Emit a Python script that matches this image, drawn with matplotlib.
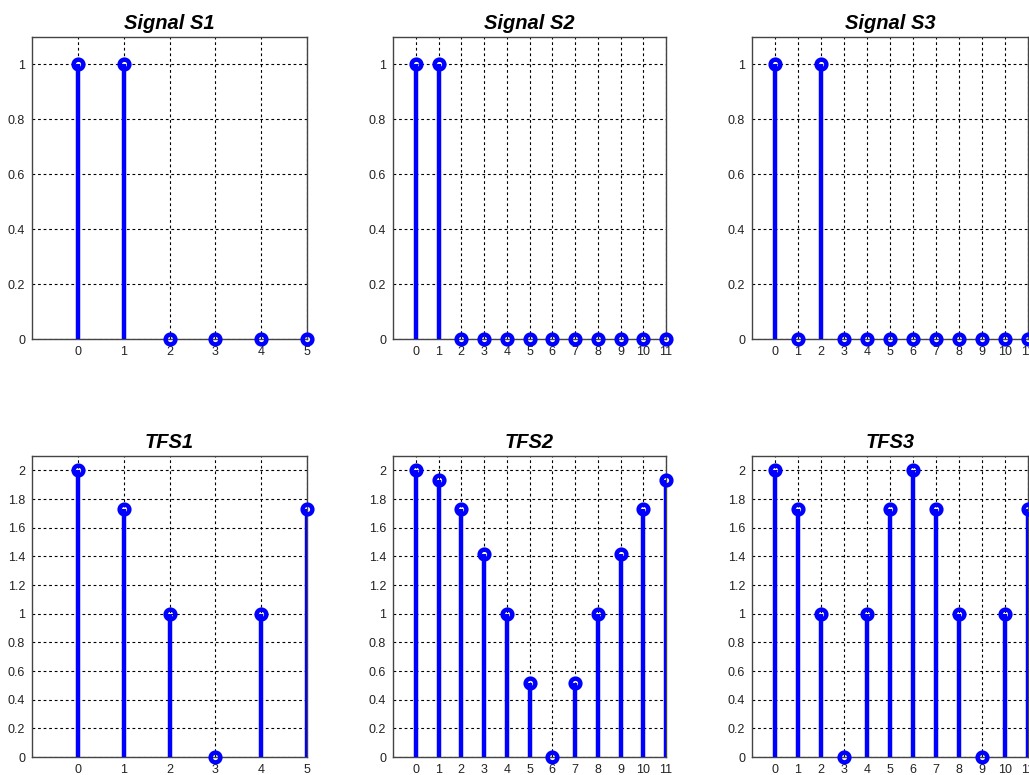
import numpy as np
import matplotlib.pyplot as plt

plt.rcParams['font.family'] = ['Liberation Sans', 'DejaVu Sans']

# signals and their transforms (magnitudes)
s1 = [1, 1, 0, 0, 0, 0]
s2 = [1, 1, 0, 0, 0, 0, 0, 0, 0, 0, 0, 0]
s3 = [1, 0, 1, 0, 0, 0, 0, 0, 0, 0, 0, 0]
tfs1 = [2, 1.732, 1, 0, 1, 1.732]
tfs2 = [2, 1.932, 1.732, 1.414, 1, 0.518, 0, 0.518, 1, 1.414, 1.732, 1.932]
tfs3 = [2, 1.732, 1, 0, 1, 1.732, 2, 1.732, 1, 0, 1, 1.732]

titles = ['Signal S1', 'Signal S2', 'Signal S3', 'TFS1', 'TFS2', 'TFS3']
series = [s1, s2, s3, tfs1, tfs2, tfs3]
ytops = [1.1, 1.1, 1.1, 2.1, 2.1, 2.1]
yticks_top = [0, 0.2, 0.4, 0.6, 0.8, 1]
yticks_bot = [0, 0.2, 0.4, 0.6, 0.8, 1, 1.2, 1.4, 1.6, 1.8, 2]

fig = plt.figure(figsize=(10.29, 7.75), dpi=100)

lefts = [32/1029, 393/1029, 752/1029]
widths = [275/1029, 273/1029, 276/1029]
bottoms = [1 - 339/775, 1 - 757/775]
heights = [302/775, 301/775]

for k in range(6):
    r, c = divmod(k, 3)
    ax = fig.add_axes([lefts[c], bottoms[r], widths[c], heights[r]])
    y = series[k]
    n = np.arange(len(y))
    yt = yticks_top if r == 0 else yticks_bot
    ax.vlines(n, 0, y, color='#0000ff', lw=3.2, zorder=3)
    ax.plot(n, y, 'o', ms=7, mfc='none', mec='#0000ff', mew=3.2, zorder=4, clip_on=False)
    ax.set_xlim(-1, len(y) - 1)
    ax.set_ylim(0, ytops[k])
    ax.set_xticks(n)
    ax.set_yticks(yt)
    ax.set_yticklabels(['%g' % v for v in yt])
    ax.grid(True, color='black', ls=(0, (2.5, 2.5)), lw=0.8)
    ax.set_axisbelow(True)
    ax.tick_params(length=0, labelsize=9, colors='#222222', pad=5)
    for sp in ax.spines.values():
        sp.set_color('#444444')
        sp.set_linewidth(1)
    ax.set_title(titles[k], fontsize=14.5, fontweight='bold', fontstyle='italic', pad=6)

fig.savefig('out.png', dpi=100, facecolor='white')
